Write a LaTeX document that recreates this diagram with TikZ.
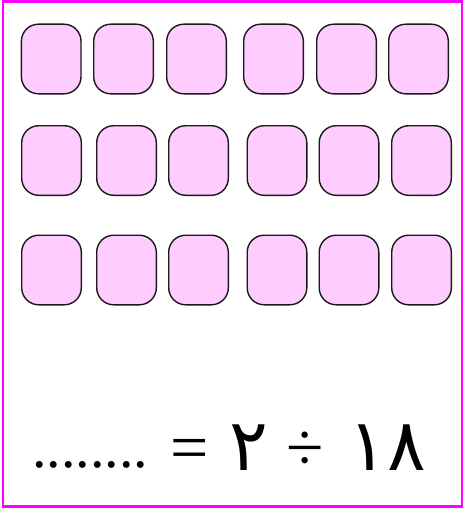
\documentclass[tikz,border=0pt]{standalone}
\usepackage{fontspec}
\newfontfamily\arabicfont[Script=Arabic]{DejaVu Sans}
\newfontfamily\symfont{Liberation Serif}
\TeXXeTstate=1
\usetikzlibrary{positioning}
\definecolor{framemag}{RGB}{255,0,255}
\definecolor{cardpink}{RGB}{255,204,255}

\begin{document}
\begin{tikzpicture}[x=1pt,y=-1pt,
 card/.style={draw=black!90,line width=1.4pt,rounded corners=17pt,fill=cardpink,minimum width=59.6pt,minimum height=69.6pt,inner sep=0pt},
 digit/.style={anchor=base,inner sep=0pt,font=\arabicfont\fontsize{72}{72}\selectfont},
 sym/.style={anchor=base,inner sep=0pt,font=\symfont\fontsize{68}{68}\selectfont}]
\useasboundingbox (0,0) rectangle (463,511);
\draw[framemag,line width=2.4pt] (3,1.5) rectangle (461.8,506.6);
% top row
\foreach \x [count=\i] in {51.2,123.5,196.5,273.5,346.5,418.5}
  \node[card] (c1\i) at (\x,59) {};
% second and third rows
\foreach \x [count=\i] in {51.5,126.5,198.5,277,349,421.5} {
  \node[card] (c2\i) at (\x,160.5) {};
  \node[card] (c3\i) at (\x,270) {};
}
% the sum, read from the right
\node[digit] (n18) at (387.5,470) {١٨};
\node[sym] (dv) at (305,470) {÷};
\node[digit] (n2) at (248.5,470) {٢};
\node[sym] (eq) at (189.5,470) {=};
\node[anchor=base,inner sep=0pt,font=\symfont\fontsize{58}{58}\selectfont] (dots) at (90,467) {........};
\end{tikzpicture}
\end{document}
